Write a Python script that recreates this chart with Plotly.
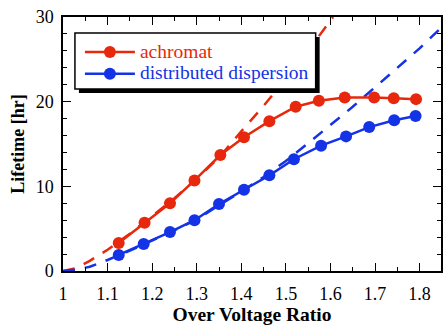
import plotly.graph_objects as go

# --- data ---
ach_x = [1.125, 1.183, 1.24, 1.295, 1.353, 1.406, 1.463, 1.522, 1.574, 1.632, 1.698, 1.742, 1.792]
ach_y = [3.3, 5.7, 8.0, 10.7, 13.7, 15.8, 17.7, 19.4, 20.1, 20.5, 20.5, 20.4, 20.3]
dd_x = [1.125, 1.181, 1.24, 1.295, 1.35, 1.406, 1.463, 1.518, 1.579, 1.635, 1.687, 1.743, 1.791]
dd_y = [1.9, 3.2, 4.6, 6.0, 7.9, 9.6, 11.3, 13.2, 14.8, 15.9, 17.0, 17.8, 18.3]

ach_fit_x = [1.0, 1.03, 1.06, 1.1, 1.15, 1.2, 1.25, 1.3, 1.35, 1.4, 1.45, 1.5, 1.55, 1.6, 1.606]
ach_fit_y = [0, 0.35, 1.2, 2.5, 4.4, 6.5, 8.6, 10.9, 13.4, 16.5, 19.5, 22.7, 26.0, 29.6, 30.0]
dd_fit_x = [1.0, 1.03, 1.06, 1.1, 1.15, 1.2, 1.25, 1.3, 1.35, 1.4, 1.45, 1.5, 1.55, 1.6, 1.65, 1.7, 1.75, 1.8, 1.85]
dd_fit_y = [0, 0.15, 0.5, 1.3, 2.4, 3.6, 4.8, 6.1, 7.7, 9.4, 11.1, 13.0, 15.1, 17.2, 19.4, 21.7, 24.0, 26.3, 28.8]

names = ["achromat", "distributed dispersion"]
RED = "#E8280C"
BLUE = "#1432E6"
SERIF = "Liberation Serif"

def leg(name, color):
    return f"<span style='color:{color};font-family:Liberation Serif;font-size:19.5px'>{name}</span>"

fig = go.Figure()
fig.add_trace(go.Scatter(x=ach_fit_x, y=ach_fit_y, mode="lines", showlegend=False,
                         line=dict(color=RED, width=2.5, dash="12px,10px")))
fig.add_trace(go.Scatter(x=dd_fit_x, y=dd_fit_y, mode="lines", showlegend=False,
                         line=dict(color=BLUE, width=2.5, dash="12px,10px")))
fig.add_trace(go.Scatter(x=ach_x, y=ach_y, mode="lines+markers", name=leg(names[0], RED),
                         line=dict(color=RED, width=2.5), marker=dict(color=RED, size=12)))
fig.add_trace(go.Scatter(x=dd_x, y=dd_y, mode="lines+markers", name=leg(names[1], BLUE),
                         line=dict(color=BLUE, width=2.5), marker=dict(color=BLUE, size=12)))

# legend box with drop shadow (pixel -> paper conversion)
L, R, T, B = 63, 443, 17, 271
def px(xp):
    return (xp - L) / (R - L)
def py(yp):
    return (B - yp) / (B - T)

fig.add_shape(type="rect", xref="paper", yref="paper", layer="above",
              x0=px(79), x1=px(321), y0=py(37), y1=py(93),
              fillcolor="black", line=dict(color="black", width=0))
fig.add_shape(type="rect", xref="paper", yref="paper", layer="above",
              x0=px(75), x1=px(317), y0=py(33), y1=py(89),
              fillcolor="white", line=dict(color="black", width=1.5))

axis_common = dict(showgrid=False, zeroline=False, showline=True, linecolor="black",
                   linewidth=1.5, mirror="ticks", ticks="inside", tickcolor="black",
                   tickwidth=1.2, ticklen=8,
                   tickfont=dict(family=SERIF, size=18, color="black"))

fig.update_xaxes(range=[1, 1.848], dtick=0.1, tick0=1, tickformat="~g",
                 minor=dict(dtick=0.05, ticks="inside", ticklen=4, tickcolor="black", tickwidth=1.2),
                 title=dict(text="<b>Over Voltage Ratio</b>", font=dict(family=SERIF, size=19.5, color="black"), standoff=4),
                 ticklabelstandoff=6, **axis_common)
fig.update_yaxes(range=[0, 30], dtick=10, tick0=0,
                 minor=dict(dtick=2, ticks="inside", ticklen=4, tickcolor="black", tickwidth=1.2),
                 title=dict(text="<b>Lifetime [hr]</b>", font=dict(family=SERIF, size=18, color="black"), standoff=6),
                 ticklabelstandoff=4, **axis_common)

fig.update_layout(
    width=444, height=327,
    margin=dict(l=63, r=1, t=17, b=56),
    plot_bgcolor="white", paper_bgcolor="white",
    font=dict(family=SERIF),
    legend=dict(x=px(80), y=py(36), xanchor="left", yanchor="top",
                bgcolor="rgba(0,0,0,0)", borderwidth=0, itemwidth=50,
                font=dict(family=SERIF, size=14.5), tracegroupgap=0),
)

fig.write_html("out.html")
